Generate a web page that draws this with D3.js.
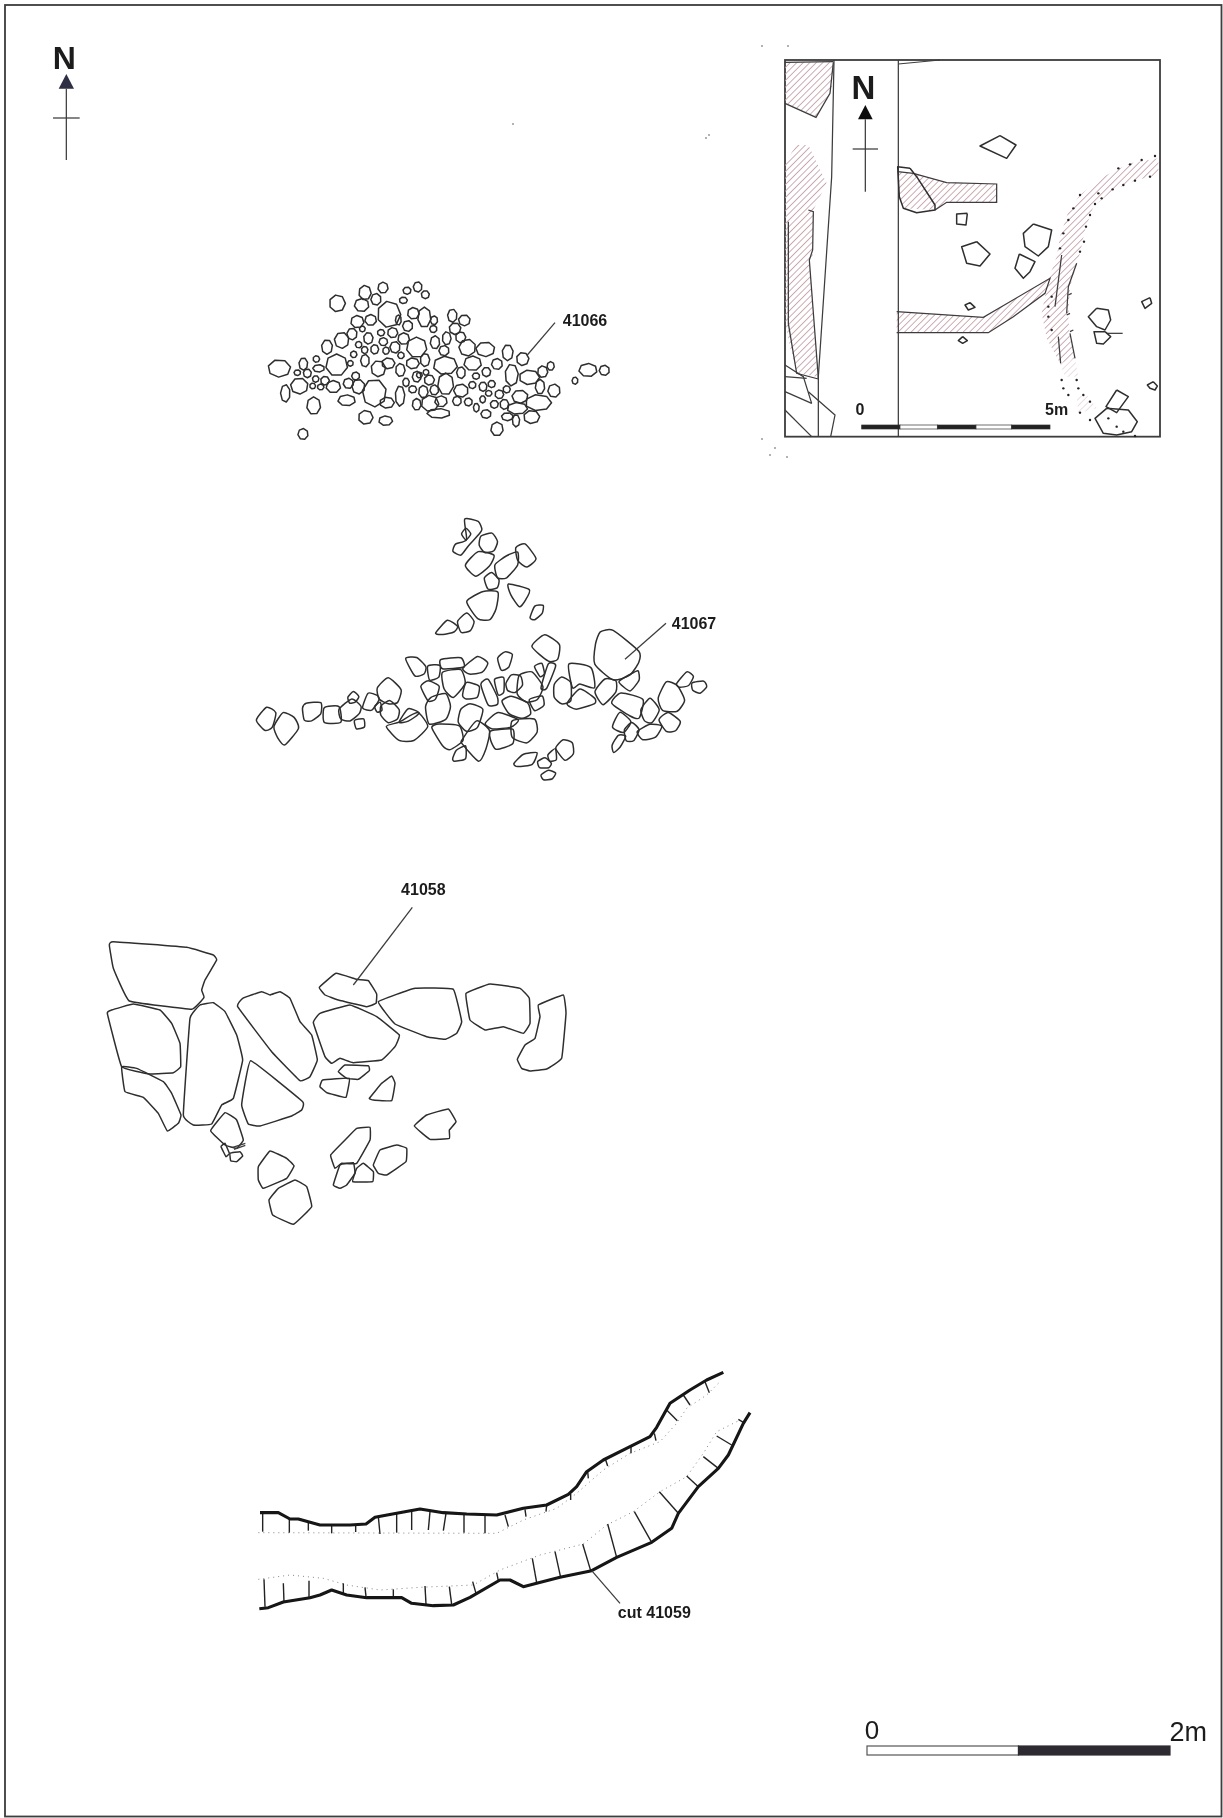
<!DOCTYPE html>
<meta charset="utf-8">
<style>
body { margin: 0; background: #fff; }
svg { display: block; }
text { font-family: "Liberation Sans", Arial, sans-serif; fill: #1c1c1c; }
.stone { fill: none; stroke: #2e2e2e; stroke-width: 1.5px; stroke-linejoin: round; }
.thin { fill: none; stroke: #3c3c3c; stroke-width: 1.25px; }
.label { font-size: 16px; font-weight: bold; }
</style>
<body></body>
<script src="https://d3js.org/d3.v7.min.js"></script>
<script>

// plan units are the pixels of a 3x enlargement of each drawing

// deposit 41066: small stones as cx, cy, rx, ry
var stones41066 = [
[292,130,22,23],[375,98,17,20],[429,83,14,15],[365,135,20,18],[408,118,14,16],[533,81,12,14],[501,92,11,10],[556,104,11,11],
[490,121,11,9],[447,163,32,36],[520,160,16,16],[553,172,18,28],[582,181,10,12],[580,207,10,10],[637,167,13,18],[673,181,16,15],
[645,206,16,16],[662,232,14,15],[620,235,12,18],[352,185,18,17],[392,180,16,15],[475,180,8,14],[503,198,14,15],[336,222,14,16],
[367,207,8,8],[385,235,13,16],[423,218,10,9],[458,218,14,14],[491,236,16,16],[430,245,12,11],[356,254,9,9],[465,262,14,16],
[305,241,20,22],[261,261,15,20],[374,270,9,10],[404,268,11,13],[438,272,9,10],[530,262,28,28],[585,247,13,18],[612,272,14,14],
[682,263,23,23],[736,268,26,20],[803,278,15,22],[848,297,17,18],[229,297,9,9],[341,283,9,9],[290,315,30,30],[483,286,9,9],
[375,302,12,17],[331,310,8,8],[190,312,12,17],[118,325,31,24],[555,300,13,18],[518,310,18,15],[616,316,33,25],[698,310,24,20],
[771,312,15,15],[236,325,16,10],[172,338,9,8],[202,340,11,12],[415,326,20,22],[445,310,18,15],[481,330,13,18],[538,345,8,8],
[558,337,8,8],[530,350,12,15],[663,338,12,16],[708,348,10,9],[739,336,12,13],[815,345,18,30],[868,352,28,20],[908,335,14,16],
[932,318,10,12],[1044,330,25,18],[1093,331,14,14],[1005,362,8,10],[178,378,24,22],[227,357,9,9],[255,362,12,12],[218,378,8,8],
[242,381,9,8],[280,380,20,17],[325,370,14,14],[347,348,11,11],[355,380,18,20],[403,399,33,38],[498,367,9,12],[568,360,14,14],
[518,388,11,10],[550,395,13,17],[617,372,22,30],[583,390,12,14],[663,392,20,18],[697,375,10,10],[729,380,11,13],[755,372,10,10],
[800,388,10,10],[778,403,12,12],[746,400,9,8],[900,380,13,20],[942,392,17,18],[136,400,13,24],[840,410,22,18],[728,418,8,10],
[480,408,13,28],[441,428,20,15],[570,430,24,22],[530,433,12,16],[603,424,17,15],[651,423,12,13],[685,426,11,11],[709,443,8,12],
[763,433,11,11],[793,433,12,14],[895,428,36,22],[832,445,28,16],[221,437,19,24],[320,421,24,15],[596,460,32,13],[738,462,14,12],
[802,470,16,11],[828,482,10,17],[875,471,22,18],[377,472,20,19],[437,482,19,13],[771,507,17,19],[189,522,14,15]
];
var leader41066 = [[945,188],[862,285]];

// deposit 41067: outlines as x,y,x,y...
var stones41067 = [
[675,32,712,38,722,60,715,72,685,105,665,130,643,120,650,100,680,88],[666,72,678,56,691,72,678,88],
[725,80,755,72,770,95,760,120,735,125,720,105],[715,128,758,138,745,168,708,195,680,165],[768,165,800,140,830,130,830,165,800,200,775,200],
[830,115,855,105,885,145,860,168,835,150],[735,205,755,190,775,210,770,232,745,235],[808,225,865,240,855,268,838,287,815,255],
[885,290,908,288,905,310,885,327,872,322],[685,275,730,248,770,250,765,295,748,325,715,322],[655,335,680,312,700,335,690,360,665,365],
[590,368,622,333,650,350,640,365,610,372],[880,410,915,378,955,405,950,445,925,450],
[1072,405,1085,372,1120,368,1190,425,1190,455,1165,490,1120,503,1070,460],[500,448,530,445,555,470,550,490,525,495],
[565,470,598,468,595,500,570,508],[605,450,660,445,668,470,610,475],[672,475,712,442,740,460,725,485,690,490],
[775,445,795,428,815,435,805,470,785,478],[885,470,905,462,912,490,900,498],[925,465,945,470,920,532,905,530],
[610,490,660,482,672,520,640,558,615,535],[545,530,565,515,595,530,585,565,565,570],[670,555,680,520,715,530,710,560,680,565],
[415,535,445,507,480,540,470,575,445,578,420,565],[325,562,340,546,355,560,345,575,330,578],[370,592,385,552,410,558,415,570,395,598],
[405,590,420,578,425,600,412,605],[425,590,450,575,475,600,470,625,445,635,425,615],[300,598,335,570,360,590,355,610,330,630,305,625],
[255,595,295,592,300,635,255,635],[190,595,200,582,240,580,240,610,215,630,195,628],[52,630,80,595,105,610,95,650,75,658],
[105,650,130,612,160,625,172,655,135,700,115,680],[345,632,370,628,372,650,350,655],[480,635,505,598,535,610,505,632],
[445,650,480,638,530,612,558,650,520,688,480,688],[560,590,575,565,615,555,628,590,615,625,570,638],
[725,525,745,512,770,560,770,580,745,582],[765,510,790,505,790,545,775,552],[800,520,815,497,840,500,845,525,825,545,805,540],
[840,500,875,490,905,530,890,565,860,572,835,550],[870,570,905,560,910,585,885,600],[790,575,815,562,860,580,868,610,845,622,810,610],
[945,525,965,505,990,520,990,570,965,578,945,560],[990,465,1050,475,1060,530,1020,520,1000,530],[985,580,1020,540,1060,565,1060,580,1010,595],
[1068,545,1095,510,1125,515,1125,545,1090,580],[1140,515,1170,495,1192,485,1195,510,1170,540],[1120,580,1145,552,1205,570,1195,620,1170,615],
[1205,600,1230,568,1255,600,1235,635,1215,630],[1258,565,1280,520,1310,530,1330,570,1310,600,1270,598],[1312,520,1340,488,1358,500,1345,525,1320,530],
[1358,520,1390,515,1398,530,1380,548,1360,540],[1120,650,1140,610,1170,635,1150,665],[1155,660,1175,640,1195,660,1180,690,1160,690],
[1195,665,1230,645,1262,650,1245,680,1210,687],[1260,630,1285,610,1318,635,1305,660,1280,662],[1118,705,1135,678,1155,680,1140,710,1122,725],
[580,655,600,645,655,650,665,690,630,715,610,705],[658,635,665,600,690,585,725,600,710,650,680,660],[670,690,710,638,745,665,735,715,715,748,670,700],
[740,640,775,610,830,630,810,650,760,655],[755,665,815,660,815,700,770,715,755,690],[820,635,880,630,888,665,860,695,820,680],
[640,745,650,722,675,710,675,745,645,752],[825,760,850,735,888,730,875,762,835,768],[895,755,915,745,932,760,925,772,900,772],
[925,735,945,718,948,748,930,752],[950,715,970,692,995,700,998,730,975,748],[905,795,925,782,945,790,935,806,912,808]
];
var leader41067 = [[1278,340],[1155,448]];

// deposit 41058
var stones41058 = [
[58,225,70,215,290,232,370,255,380,270,345,330,335,360,342,382,305,418,118,393,70,295],
[52,430,65,420,130,402,210,420,245,460,270,520,272,590,250,608,180,612,95,590],
[95,590,140,595,220,635,245,670,273,735,265,760,232,783,205,730,160,682,105,665],
[300,445,330,405,370,398,405,425,440,495,458,570,430,685,395,705,365,762,310,765,280,735],
[443,410,458,385,515,365,540,375,570,365,600,385,630,455,665,495,682,570,660,620,630,632,545,545],
[482,572,638,695,635,720,605,738,510,768,475,762,455,705],
[688,352,738,310,800,328,835,332,860,372,858,400,830,410,745,390,705,375],
[670,458,690,430,780,405,860,440,928,495,915,530,875,570,790,578,750,565,725,580,705,560],
[865,395,975,355,1090,358,1115,455,1100,490,1065,508,1010,500,915,462],
[1128,370,1200,342,1290,355,1318,385,1320,460,1300,490,1240,470,1185,480,1140,450],
[1345,405,1420,375,1428,430,1415,565,1370,597,1320,603,1295,595,1282,568,1305,525,1335,505,1350,440],
[745,605,765,585,835,587,838,602,805,628,770,625],
[690,650,698,630,778,625,768,682,735,675,710,668],
[838,685,875,640,905,618,915,640,905,692,850,690],
[362,782,405,728,440,750,460,810,440,835,405,825],
[393,830,405,820,418,850,408,860],[420,850,450,845,458,858,440,875,422,872],
[505,890,540,843,590,865,612,888,590,925,520,955,505,930],
[537,990,565,955,615,930,650,950,665,1010,610,1063,548,1035],
[722,855,770,805,800,775,840,772,840,810,800,880,755,880,735,895],
[730,945,750,885,790,878,795,910,770,945,750,955],
[788,935,800,895,820,880,850,905,848,935],
[850,885,870,840,920,825,950,835,948,875,890,915,865,910],
[973,768,1010,735,1075,717,1098,755,1078,780,1078,805,1020,808]
];
var leader41058 = [[967,112],[790,345]];
var scrawl41058 = [[[428,832],[466,820]],[[432,838],[466,826]]];

// cut 41059: edges, dotted bases and hachures
var cutUpper = [[60,518],[115,518],[150,537],[175,537],[240,555],[330,555],[378,552],[405,532],[470,520],[540,507],[610,518],[680,522],[770,525],[850,505],[920,495],[985,463],[1010,440],[1040,395],[1090,360],[1170,320],[1230,290],[1250,262],[1290,190],[1350,150],[1400,120],[1450,97]];
var cutLower = [[58,806],[85,803],[130,786],[210,773],[240,765],[275,750],[320,765],[380,773],[485,773],[515,790],[580,797],[640,795],[690,772],[780,720],[810,720],[850,740],[890,730],[960,712],[1055,692],[1130,652],[1235,607],[1295,565],[1315,520],[1375,440],[1435,385],[1465,345],[1510,250],[1530,218]];
var baseUpper = [[55,578],[770,580],[850,540],[950,505],[1010,460],[1090,390],[1170,340],[1260,305],[1310,250],[1340,205],[1400,165],[1440,125]];
var baseLower = [[55,718],[150,705],[250,715],[320,735],[420,750],[540,742],[700,735],[780,690],[900,645],[1030,612],[1100,555],[1180,515],[1260,455],[1340,410],[1390,340],[1430,275],[1500,240]];
var hachures = [
[68,518,68,575],[148,537,148,578],[205,548,205,572],[275,556,275,580],[347,556,347,576],[415,530,420,582],[470,522,470,578],[515,515,515,570],
[570,515,565,570],[618,520,610,572],[672,522,672,578],[735,525,735,580],[795,525,805,560],[855,508,858,530],[920,495,918,515],[992,462,992,480],
[1043,395,1045,415],[1097,360,1103,378],[1173,320,1173,340],[1243,280,1248,302],[1280,210,1312,242],[1330,165,1350,195],[1395,125,1408,158],
[75,800,72,718],[132,785,130,730],[207,772,207,722],[310,762,310,730],[378,770,375,742],[460,772,460,748],[558,792,555,738],[635,793,628,740],
[708,760,698,725],[775,722,770,698],[890,728,877,655],[962,712,945,635],[1052,692,1028,612],[1130,652,1103,552],[1235,607,1183,515],
[1315,520,1258,455],[1375,440,1340,408],[1435,385,1390,350],[1475,315,1430,288],[1515,250,1495,238]
];
var leader41059 = [[1055,692],[1140,790]];

// location plan
var insetHatch = [
[135,97,280,97,275,180,228,262,135,220],
[140,390,170,345,205,345,260,460,220,540,218,680,208,690,232,1040,172,1030,150,950,135,870,135,400],
[473,425,520,430,620,458,770,462,770,517,620,517,585,540,490,535,478,500],
[470,845,730,862,930,745,915,790,820,860,745,908,470,908],
[1255,385,1170,400,1090,440,1020,495,985,545,960,620,950,680,925,750,905,850,920,925,960,1000,1005,985,990,930,985,860,990,770,1005,720,1020,670,1035,600,1060,530,1120,480,1190,450,1255,435]
];
var insetHatchFaint = [
[960,1000,1005,985,1015,1040,975,1040],
[1010,1100,1040,1095,1070,1135,1015,1150]
];
var insetStones = [
[720,348,780,317,828,345,800,385],[473,410,510,415,530,440,585,525,585,540,530,548,490,535,478,500],
[650,552,682,550,678,585,650,582],[665,650,710,635,750,672,720,708,680,700],[850,610,880,582,935,600,925,650,895,678,855,650],
[825,715,838,672,885,695,870,725,850,745],[675,825,690,818,705,832,685,840],[655,932,668,920,682,932,668,940],
[1045,860,1070,835,1105,840,1112,870,1095,900,1070,890],[1062,905,1095,905,1112,920,1090,942,1070,940],
[1205,815,1230,803,1235,820,1215,835],[1222,1065,1240,1055,1252,1068,1245,1080,1230,1075],
[1098,1130,1130,1080,1165,1100,1130,1148],[1065,1165,1100,1135,1165,1140,1192,1175,1175,1205,1130,1215,1090,1210]
];
var insetLines = [
[[475,90],[475,1220]],[[475,102],[600,90]],[[282,90],[275,440],[235,1040],[235,1220]],
[[135,220],[228,262],[270,190],[280,97]],[[135,97],[280,95]],
[[205,540],[220,545],[218,660],[208,690],[235,1045]],[[145,575],[145,880],[170,1030],[235,1047]],
[[135,1005],[190,1040],[215,1120]],[[135,1040],[200,1045]],[[135,1085],[215,1120]],[[205,1085],[285,1155],[272,1220]],[[135,1140],[215,1220]],
[[473,425],[520,430],[620,458],[770,462],[770,517],[620,517],[585,540]],
[[470,845],[730,862],[930,745],[915,790],[820,860],[745,908],[470,908]],
[[965,675],[945,830]],[[955,920],[962,1000]],[[1010,700],[985,770],[980,850]],[[990,910],[1005,985]],
[[985,795],[995,790]],[[980,855],[990,850]],[[990,905],[1000,900]],[[1100,910],[1148,910]]
];
var insetDots = [
[1020,495],[1075,490],[1135,415],[1170,403],[1205,390],[1245,378],[1230,440],[1185,452],[1150,465],[1118,478],[1085,505],[1065,522],[1050,555],[1038,590],[1032,635],[1020,665],
[1000,535],[985,570],[970,610],[960,655],[935,800],[925,830],[925,860],[935,900],[965,1050],[970,1075],[985,1095],[1010,1050],[1015,1075],[1030,1095],[1050,1115],[1020,1148],
[1050,1170],[1105,1165],[1130,1190],[1150,1205],[1185,1218]
];
var insetScaleBreaks = [365,480,592,708,815,930];

// scale bars in metres
var scaleSegments = [0,1,2];
var scaleLabels = ["0","2m"];

// stray scanner marks, page pixels
var specks = [[513,124],[709,135],[706,138],[762,46],[788,46],[762,439],[775,448],[770,455],[787,457]];

var width = 1223,
    height = 1818;

var svg = d3.select("body").append("svg")
    .attr("width", width)
    .attr("height", height);

svg.append("defs").append("filter").attr("id", "scan")
    .attr("x", 0).attr("y", 0).attr("width", 1).attr("height", 1)
    .attr("filterUnits", "objectBoundingBox")
    .append("feGaussianBlur").attr("stdDeviation", 0.5);

var pat = svg.select("defs").append("pattern").attr("id", "hatch")
    .attr("width", 4.6).attr("height", 4.6)
    .attr("patternUnits", "userSpaceOnUse")
    .attr("patternTransform", "rotate(45)");
pat.append("line").attr("x1", 0).attr("y1", 0).attr("x2", 0).attr("y2", 4.6)
    .attr("stroke", "#c09aa1").attr("stroke-width", 1.6);

var page = svg.append("g").attr("filter", "url(#scan)");
page.append("rect").attr("width", width).attr("height", height).attr("fill", "#fff");

// each drawing gets its own pair of scales from plan units to the page
function panel(ox, oy, w, h) {
  var x = d3.scaleLinear().domain([0, w]).range([ox, ox + w / 3]),
      y = d3.scaleLinear().domain([0, h]).range([oy, oy + h / 3]);
  var g = page.append("g");
  return {
    g: g, x: x, y: y,
    line: d3.line().x(function(d) { return x(d[0]); }).y(function(d) { return y(d[1]); }),
    closed: d3.line().x(function(d) { return x(d[0]); }).y(function(d) { return y(d[1]); }).curve(d3.curveLinearClosed)
  };
}

function pairsOf(flat) {
  var out = [];
  for (var i = 0; i < flat.length; i += 2) out.push([flat[i], flat[i + 1]]);
  return out;
}

// tension rounds off the corners, 1 keeps straight sides; grow swells a stone about its middle
function drawStones(p, list, tension, grow) {
  var path = d3.line()
      .x(function(d) { return p.x(d[0]); })
      .y(function(d) { return p.y(d[1]); })
      .curve(d3.curveCardinalClosed.tension(tension));
  p.g.selectAll(null).data(list).enter().append("path")
      .attr("class", "stone")
      .attr("d", function(d) {
        var pts = pairsOf(d),
            c = d3.polygonCentroid(pts);
        return path(pts.map(function(q) {
          return [c[0] + grow * (q[0] - c[0]), c[1] + grow * (q[1] - c[1])];
        }));
      });
}

// small stones are seven sided, like the hand drawn ones
var corners = d3.range(7).map(function(i) { return i * 2 * Math.PI / 7; });
function drawRoundStones(p, list) {
  p.g.selectAll(null).data(list).enter().append("path")
      .attr("class", "stone")
      .attr("d", function(d, n) {
        return p.closed(corners.map(function(a) {
          return [d[0] + 1.1 * d[2] * Math.cos(a + n), d[1] + 1.1 * d[3] * Math.sin(a + n)];
        }));
      });
}

function drawLeader(p, pts) {
  p.g.append("path").attr("class", "thin").attr("d", p.line(pts));
}

function drawLabel(p, t, cx, cy) {
  p.g.append("text").attr("class", "label")
      .attr("x", p.x(cx)).attr("y", p.y(cy))
      .attr("dy", "0.36em").attr("text-anchor", "middle").text(t);
}

function north(p, cx, nY, tip, base, halfBase, crossY, crossHalf, end, fill, size) {
  p.g.append("text").attr("x", p.x(cx - 6)).attr("y", p.y(nY))
      .attr("text-anchor", "middle").style("font-size", size + "px")
      .style("font-weight", "bold").text("N");
  p.g.append("path").attr("fill", fill)
      .attr("d", p.closed([[cx, tip], [cx - halfBase, base], [cx + halfBase, base]]));
  p.g.append("path").attr("class", "thin").attr("d", p.line([[cx, base], [cx, end]]));
  p.g.append("path").attr("class", "thin").attr("d", p.line([[cx - crossHalf, crossY], [cx + crossHalf, crossY]]));
}

// sheet frame
page.append("rect").attr("x", 5).attr("y", 5).attr("width", 1216.5).attr("height", 1811.5)
    .attr("fill", "none").attr("stroke", "#3c3c3c").attr("stroke-width", 1.8);

// sheet north arrow
north(panel(0, 0, 600, 600), 199, 207, 222, 266, 23, 354, 40, 480, "#2e2e44", 32);

// 41066
var p1 = panel(240, 260, 1200, 600);
drawRoundStones(p1, stones41066);
drawLeader(p1, leader41066);
drawLabel(p1, "41066", 1035, 180);

// 41067
var p2 = panel(240, 510, 1440, 840);
drawStones(p2, stones41067, 0.4, 1.1);
drawLeader(p2, leader41067);
drawLabel(p2, "41067", 1362, 340);

// 41058
var p3 = panel(90, 870, 1500, 1080);
drawStones(p3, stones41058, 0.75, 1);
scrawl41058.forEach(function(s) { drawLeader(p3, s); });
drawLeader(p3, leader41058);
drawLabel(p3, "41058", 1000, 58);

// cut 41059
var p4 = panel(240, 1340, 1560, 870);
[baseUpper, baseLower].forEach(function(b) {
  p4.g.append("path").attr("d", p4.line(b))
      .attr("fill", "none").attr("stroke", "#777").attr("stroke-width", 0.9)
      .attr("stroke-dasharray", "1 4");
});
p4.g.selectAll(null).data(hachures).enter().append("line")
    .attr("x1", function(d) { return p4.x(d[0]); })
    .attr("y1", function(d) { return p4.y(d[1]); })
    .attr("x2", function(d) { return p4.x(d[2]); })
    .attr("y2", function(d) { return p4.y(d[3]); })
    .attr("stroke", "#222").attr("stroke-width", 1.4);
[cutUpper, cutLower].forEach(function(e) {
  p4.g.append("path").attr("d", p4.line(e))
      .attr("fill", "none").attr("stroke", "#141414").attr("stroke-width", 3.1)
      .attr("stroke-linejoin", "round");
});
drawLeader(p4, leader41059);
drawLabel(p4, "cut 41059", 1243, 818);

// location plan
var p5 = panel(740, 30, 1350, 1320);
p5.g.append("rect")
    .attr("x", p5.x(135)).attr("y", p5.y(90))
    .attr("width", p5.x(1260) - p5.x(135)).attr("height", p5.y(1220) - p5.y(90))
    .attr("fill", "#fff").attr("stroke", "#3c3c3c").attr("stroke-width", 1.8);
p5.g.selectAll(null).data(insetHatch).enter().append("path")
    .attr("fill", "url(#hatch)")
    .attr("d", function(d) { return p5.closed(pairsOf(d)); });
p5.g.selectAll(null).data(insetHatchFaint).enter().append("path")
    .attr("fill", "url(#hatch)").attr("opacity", 0.4)
    .attr("d", function(d) { return p5.closed(pairsOf(d)); });
p5.g.selectAll(null).data(insetLines).enter().append("path")
    .attr("class", "thin").attr("d", function(d) { return p5.line(d); });
drawStones(p5, insetStones, 1, 1);
p5.g.selectAll(null).data(insetDots).enter().append("circle")
    .attr("cx", function(d) { return p5.x(d[0]); })
    .attr("cy", function(d) { return p5.y(d[1]); })
    .attr("r", 1.2).attr("fill", "#222");
north(p5, 376, 208, 225, 268, 22, 357, 38, 485, "#111", 33);
p5.g.selectAll(null).data(d3.pairs(insetScaleBreaks)).enter().append("rect")
    .attr("x", function(d) { return p5.x(d[0]); })
    .attr("y", p5.y(1185))
    .attr("width", function(d) { return p5.x(d[1]) - p5.x(d[0]); })
    .attr("height", p5.y(1197) - p5.y(1185))
    .attr("fill", function(d, i) { return i % 2 ? "#fff" : "#222"; })
    .attr("stroke", "#333").attr("stroke-width", 0.7);
p5.g.append("text").attr("x", p5.x(360)).attr("y", p5.y(1155)).attr("text-anchor", "middle")
    .style("font-size", "16px").style("font-weight", "bold").text("0");
p5.g.append("text").attr("x", p5.x(950)).attr("y", p5.y(1155)).attr("text-anchor", "middle")
    .style("font-size", "16px").style("font-weight", "bold").text("5m");

// main scale bar
var metres = d3.scaleLinear().domain([0, 2]).range([867, 1170]);
page.selectAll(null).data(d3.pairs(scaleSegments)).enter().append("rect")
    .attr("x", function(d) { return metres(d[0]); })
    .attr("y", 1746)
    .attr("width", function(d) { return metres(d[1]) - metres(d[0]); })
    .attr("height", 9)
    .attr("fill", function(d, i) { return i ? "#2f2c33" : "#fff"; })
    .attr("stroke", function(d, i) { return i ? "#2f2c33" : "#555"; })
    .attr("stroke-width", 1.2);
page.append("text").attr("x", metres(0) + 5).attr("y", 1739).attr("text-anchor", "middle")
    .style("font-size", "26px").text(scaleLabels[0]);
page.append("text").attr("x", metres(2) + 37).attr("y", 1741).attr("text-anchor", "end")
    .style("font-size", "27px").text(scaleLabels[1]);

page.selectAll(null).data(specks).enter().append("circle")
    .attr("cx", function(d) { return d[0]; })
    .attr("cy", function(d) { return d[1]; })
    .attr("r", 1).attr("fill", "#999");

</script>
